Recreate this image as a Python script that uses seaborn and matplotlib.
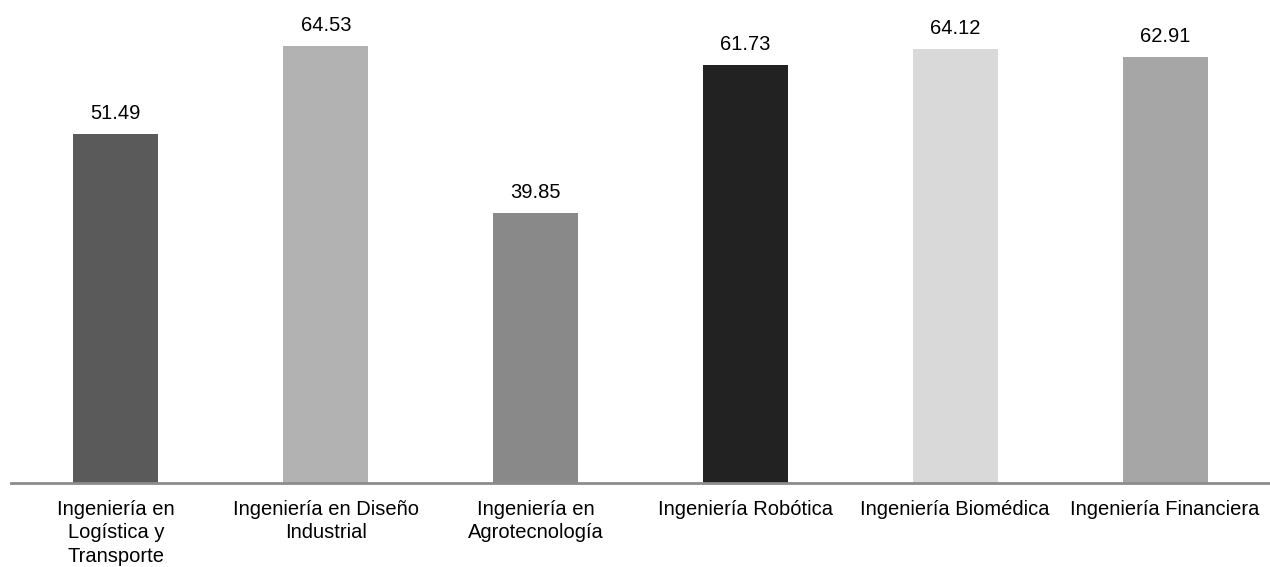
import matplotlib
matplotlib.use("Agg")
import matplotlib.pyplot as plt
import seaborn as sns
import pandas as pd

categories = [
    "Ingeniería en\nLogística y\nTransporte",
    "Ingeniería en Diseño\nIndustrial",
    "Ingeniería en\nAgrotecnología",
    "Ingeniería Robótica",
    "Ingeniería Biomédica",
    "Ingeniería Financiera",
]
values = [51.49, 64.53, 39.85, 61.73, 64.12, 62.91]
colors = ["#5a5a5a", "#b2b2b2", "#898989", "#222222", "#d9d9d9", "#a6a6a6"]

sns.set_theme(style="white")
plt.rcParams["font.family"] = ["Liberation Sans", "DejaVu Sans"]

df = pd.DataFrame({"cat": categories, "val": values})

fig = plt.figure(figsize=(12.7, 5.67), dpi=100)
ax = fig.add_axes([11 / 1270, 84 / 567, 1259 / 1270, 483 / 567])

sns.barplot(data=df, x="cat", y="val", hue="cat", palette=colors,
            legend=False, width=0.405, saturation=1, linewidth=0, ax=ax)

ax.set_xlim(-0.5, 5.5)
ax.set_ylim(0, 71.3)
ax.set_xlabel("")
ax.set_ylabel("")
ax.set_yticks([])
for s in ["top", "right", "left"]:
    ax.spines[s].set_visible(False)
ax.spines["bottom"].set_color("#8c8c8c")
ax.spines["bottom"].set_linewidth(2)
ax.tick_params(axis="x", length=0, pad=12, labelsize=14.5, colors="#000000")
for lbl in ax.get_xticklabels():
    lbl.set_linespacing(1.3)

for cont in ax.containers:
    ax.bar_label(cont, fmt="%.2f", padding=8, fontsize=14.5, color="#000000")

fig.savefig("out.png", dpi=100, facecolor="white")
